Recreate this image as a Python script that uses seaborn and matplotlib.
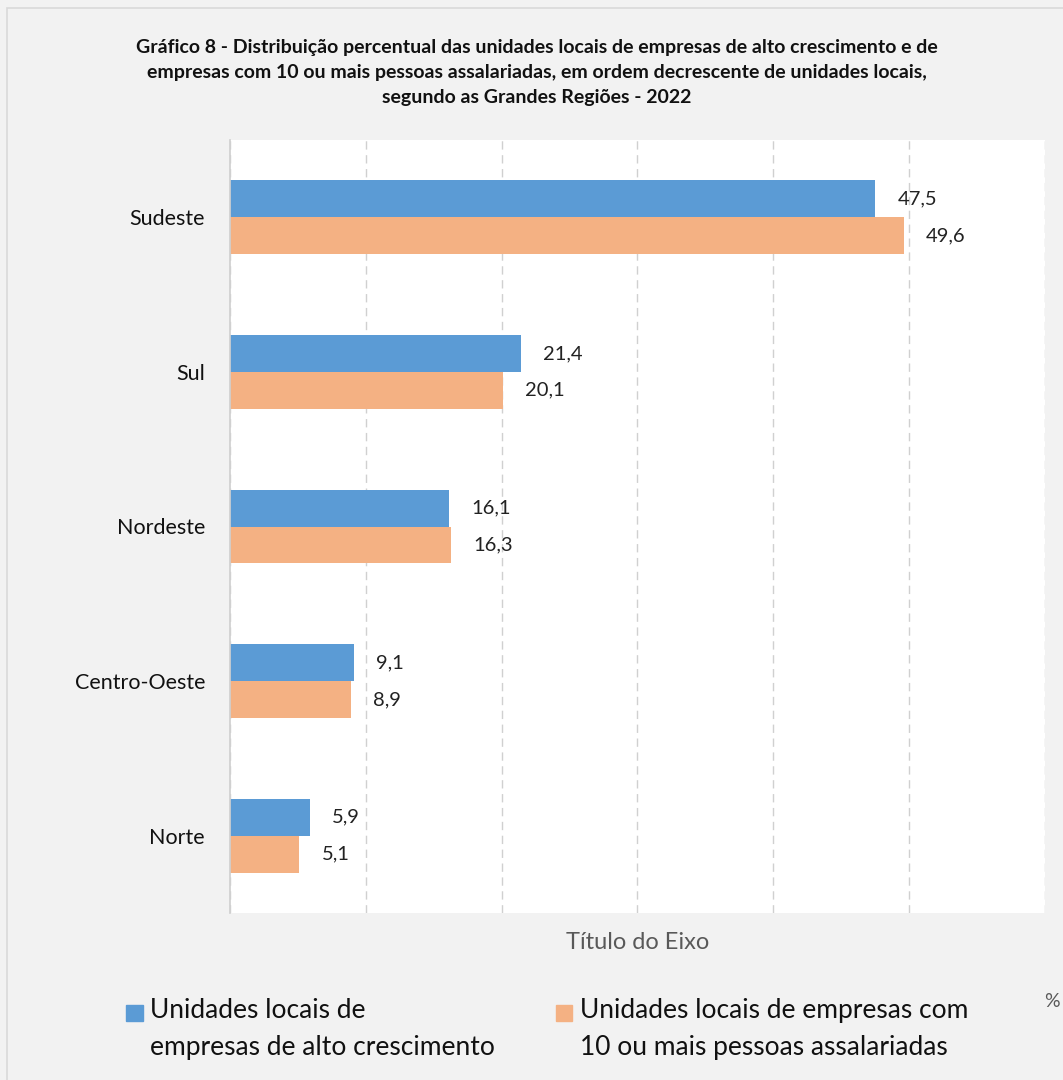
import matplotlib.pyplot as plt
import matplotlib.patches as mpatches
from matplotlib.legend_handler import HandlerPatch
import seaborn as sns
import pandas as pd

regioes = ["Sudeste", "Sul", "Nordeste", "Centro-Oeste", "Norte"]
alto_crescimento = [47.5, 21.4, 16.1, 9.1, 5.9]
dez_ou_mais = [49.6, 20.1, 16.3, 8.9, 5.1]
serie_labels = ["Unidades locais de\nempresas de alto crescimento",
                "Unidades locais de empresas com\n10 ou mais pessoas assalariadas"]
cores = ["#5b9bd5", "#f4b183"]

df = pd.DataFrame({
    "regiao": regioes * 2,
    "valor": alto_crescimento + dez_ou_mais,
    "serie": [serie_labels[0]] * len(regioes) + [serie_labels[1]] * len(regioes),
})

sns.set_theme(style="white")
plt.rcParams['font.family'] = ['Lato', 'DejaVu Sans']

fig = plt.figure(figsize=(10.63, 10.8), dpi=100, facecolor="#f2f2f2")
ax = fig.add_axes([0.2164, 0.1546, 0.7666, 0.7158])
ax.set_facecolor("white")

sns.barplot(data=df, y="regiao", x="valor", hue="serie", palette=cores,
            orient="h", width=0.477, gap=0, legend=False, ax=ax, saturation=1,
            linewidth=0)

for cont in ax.containers:
    ax.bar_label(cont, labels=[f"{v:.1f}".replace(".", ",") for v in cont.datavalues],
                 padding=16, fontsize=14.5, color="#222222")

ax.set_xlim(0, 60)
ax.set_xticks(range(0, 61, 10))
ax.set_xticklabels([])
ax.tick_params(axis="x", length=0)
ax.tick_params(axis="y", length=0, labelsize=15.5, pad=18, labelcolor="#111111")
ax.xaxis.grid(True, linestyle=(0, (6, 4)), color="#d0d0d0", linewidth=1)
ax.set_axisbelow(True)
for s in ["top", "right", "bottom"]:
    ax.spines[s].set_visible(False)
ax.spines["left"].set_color("#d0d0d0")
ax.set_ylabel("")
ax.set_xlabel("Título do Eixo", fontsize=17, color="#595959", labelpad=10)

fig.text(0.505, 0.933,
         "Gráfico 8 - Distribuição percentual das unidades locais de empresas de alto crescimento e de\n"
         "empresas com 10 ou mais pessoas assalariadas, em ordem decrescente de unidades locais,\n"
         "segundo as Grandes Regiões - 2022",
         ha="center", va="center", fontsize=14, fontweight="bold", linespacing=1.55,
         color="#111111")


# legend square sits next to the first line of each label
def top_square(legend, orig_handle, xdescent, ydescent, width, height, fontsize):
    sq = 0.62 * fontsize
    return mpatches.Rectangle((-xdescent, -ydescent + height - sq + 2.5), sq, sq)


handles = [mpatches.Patch(color=c, label=l) for c, l in zip(cores, serie_labels)]
leg = fig.legend(handles=handles, loc="center", bbox_to_anchor=(0.515, 0.047), ncol=2,
                 frameon=False, fontsize=19, handlelength=0.62, handleheight=2.3,
                 handletextpad=0.3, columnspacing=2.3,
                 handler_map={mpatches.Patch: HandlerPatch(patch_func=top_square)})
for t in leg.get_texts():
    t.set_linespacing(1.6)
    t.set_color("#111111")

fig.text(0.99, 0.073, "%", ha="center", va="center", fontsize=14, color="#595959")

fig.patches.append(mpatches.Rectangle((0.007, -0.01), 1.0, 1.0025, transform=fig.transFigure,
                                      fill=False, edgecolor="#d9d9d9", linewidth=1.2))

fig.savefig("out.png", dpi=100, facecolor=fig.get_facecolor())
